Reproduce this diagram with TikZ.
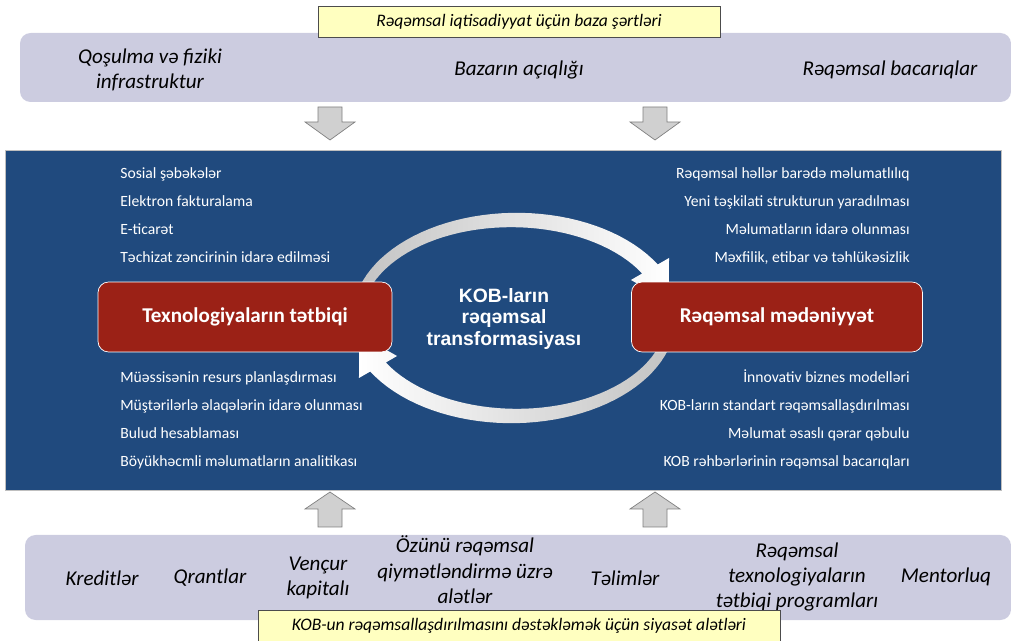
\documentclass[tikz,border=0pt]{standalone}
\usepackage{fontspec}
\setmainfont{Carlito}
\newfontfamily\arialfont{Liberation Sans}
\usetikzlibrary{positioning}
\definecolor{panelblue}{RGB}{32,74,126}
\definecolor{boxred}{RGB}{155,33,22}
\definecolor{bandgray}{RGB}{204,204,224}
\definecolor{notepale}{RGB}{255,255,192}
\definecolor{arrowgray}{RGB}{208,208,208}
\tikzset{
  band/.style={fill=bandgray, rounded corners=6pt},
  notebox/.style={draw=gray!60!black, fill=notepale, inner sep=0,
    font=\itshape\fontsize{10}{12}\selectfont},
  bandtext/.style={align=center, font=\itshape\fontsize{12}{14.5}\selectfont},
  itemleft/.style={anchor=west, text=white, inner sep=0, text height=1.6ex,
    text depth=0.4ex, font=\fontsize{8.9}{10}\selectfont},
  itemright/.style={itemleft, anchor=east},
  redbox/.style={draw=white, fill=boxred, rounded corners=6pt, text=white,
    minimum height=1.4cm, font=\bfseries\fontsize{12}{14}\selectfont},
  blockarrow/.style={fill=arrowgray, draw=gray, thin}
}
\begin{document}
\begin{tikzpicture}[x=0.02cm, y=-0.02cm]
\useasboundingbox (0,0) rectangle (1011,641);

% bands with the conditions and the tools
\fill[band] (20,33) rectangle (1011,102);
\fill[band] (25,535) rectangle (1011,620);
\node[notebox, minimum width=8.04cm, minimum height=0.62cm] (base) at (519,22)
  {Rəqəmsal iqtisadiyyat üçün baza şərtləri};
\node[bandtext] (infra) at (150,70) {Qoşulma və fiziki\\infrastruktur};
\node[bandtext] (market) at (519,70) {Bazarın açıqlığı};
\node[bandtext] (skills) at (890,70) {Rəqəmsal bacarıqlar};

% down and up block arrows
\foreach \cx in {330,655} {
  \draw[blockarrow] (\cx-12,107) -- (\cx+12,107) -- (\cx+12,122) -- (\cx+25,122)
    -- (\cx,140) -- (\cx-25,122) -- (\cx-12,122) -- cycle;
  \draw[blockarrow] (\cx-12,527) -- (\cx+12,527) -- (\cx+12,509) -- (\cx+25,509)
    -- (\cx,492) -- (\cx-25,509) -- (\cx-12,509) -- cycle;
}

% main panel
\draw[fill=panelblue, draw=gray!50] (5,150) rectangle (1001,490);

% round arrows
\shade[left color=arrowgray!85!gray, right color=white]
  plot[domain=162:30, samples=40] ({514+(157+5+4*(162-\x)/132)*cos(\x)},
    {318-(98+5+4*(162-\x)/132)*sin(\x)})
  -- ({514+(157+22)*cos(30)},{318-(98+22)*sin(30)})
  -- ({514+157*cos(10)},{318-98*sin(10)})
  -- ({514+(157-22)*cos(30)},{318-(98-22)*sin(30)})
  -- plot[domain=30:162, samples=40] ({514+(157-5-4*(162-\x)/132)*cos(\x)},
    {318-(98-5-4*(162-\x)/132)*sin(\x)})
  -- cycle;
\shade[left color=white, right color=arrowgray!85!gray]
  plot[domain=342:210, samples=40] ({514+(157+5+4*(342-\x)/132)*cos(\x)},
    {318-(98+5+4*(342-\x)/132)*sin(\x)})
  -- ({514+(157+22)*cos(210)},{318-(98+22)*sin(210)})
  -- ({514+157*cos(190)},{318-98*sin(190)})
  -- ({514+(157-22)*cos(210)},{318-(98-22)*sin(210)})
  -- plot[domain=210:342, samples=40] ({514+(157-5-4*(342-\x)/132)*cos(\x)},
    {318-(98-5-4*(342-\x)/132)*sin(\x)})
  -- cycle;

\node[redbox, minimum width=5.88cm] (tech) at (245,317) {Texnologiyaların tətbiqi};
\node[redbox, minimum width=5.82cm] (culture) at (777,317) {Rəqəmsal mədəniyyət};
\node[align=center, text=white, font=\arialfont\bfseries\fontsize{11}{12.5}\selectfont]
  (core) at (504,319) {KOB-ların\\rəqəmsal\\transformasiyası};

% lists in the panel
\node[itemleft] (t1) at (120,173) {Sosial şəbəkələr};
\node[itemleft] (t2) at (120,201) {Elektron fakturalama};
\node[itemleft] (t3) at (120,229) {E-ticarət};
\node[itemleft] (t4) at (120,257) {Təchizat zəncirinin idarə edilməsi};
\node[itemleft] (t5) at (120,377) {Müəssisənin resurs planlaşdırması};
\node[itemleft] (t6) at (120,405) {Müştərilərlə əlaqələrin idarə olunması};
\node[itemleft] (t7) at (120,433) {Bulud hesablaması};
\node[itemleft] (t8) at (120,461) {Böyükhəcmli məlumatların analitikası};
\node[itemright] (c1) at (910,173) {Rəqəmsal həllər barədə məlumatlılıq};
\node[itemright] (c2) at (910,201) {Yeni təşkilati strukturun yaradılması};
\node[itemright] (c3) at (910,229) {Məlumatların idarə olunması};
\node[itemright] (c4) at (910,257) {Məxfilik, etibar və təhlükəsizlik};
\node[itemright] (c5) at (910,377) {İnnovativ biznes modelləri};
\node[itemright] (c6) at (910,405) {KOB-ların standart rəqəmsallaşdırılması};
\node[itemright] (c7) at (910,433) {Məlumat əsaslı qərar qəbulu};
\node[itemright] (c8) at (910,461) {KOB rəhbərlərinin rəqəmsal bacarıqları};

% policy tools
\node[bandtext] (credit) at (102,578) {Kreditlər};
\node[bandtext] (grant) at (210,578) {Qrantlar};
\node[bandtext] (venture) at (318,578) {Vençur\\kapitalı};
\node[bandtext] (selfcheck) at (465,570) {Özünü rəqəmsal\\qiymətləndirmə üzrə\\alətlər};
\node[bandtext] (training) at (625,578) {Təlimlər};
\node[bandtext] (techprog) at (797,577) {Rəqəmsal\\texnologiyaların\\tətbiqi programları};
\node[bandtext] (mentor) at (946,577) {Mentorluq};
\draw[fill=notepale, draw=gray!60!black] (258,610) rectangle (780,645);
\node[font=\itshape\fontsize{10}{12}\selectfont] (policy) at (519,626)
  {KOB-un rəqəmsallaşdırılmasını dəstəkləmək üçün siyasət alətləri};
\end{tikzpicture}
\end{document}
